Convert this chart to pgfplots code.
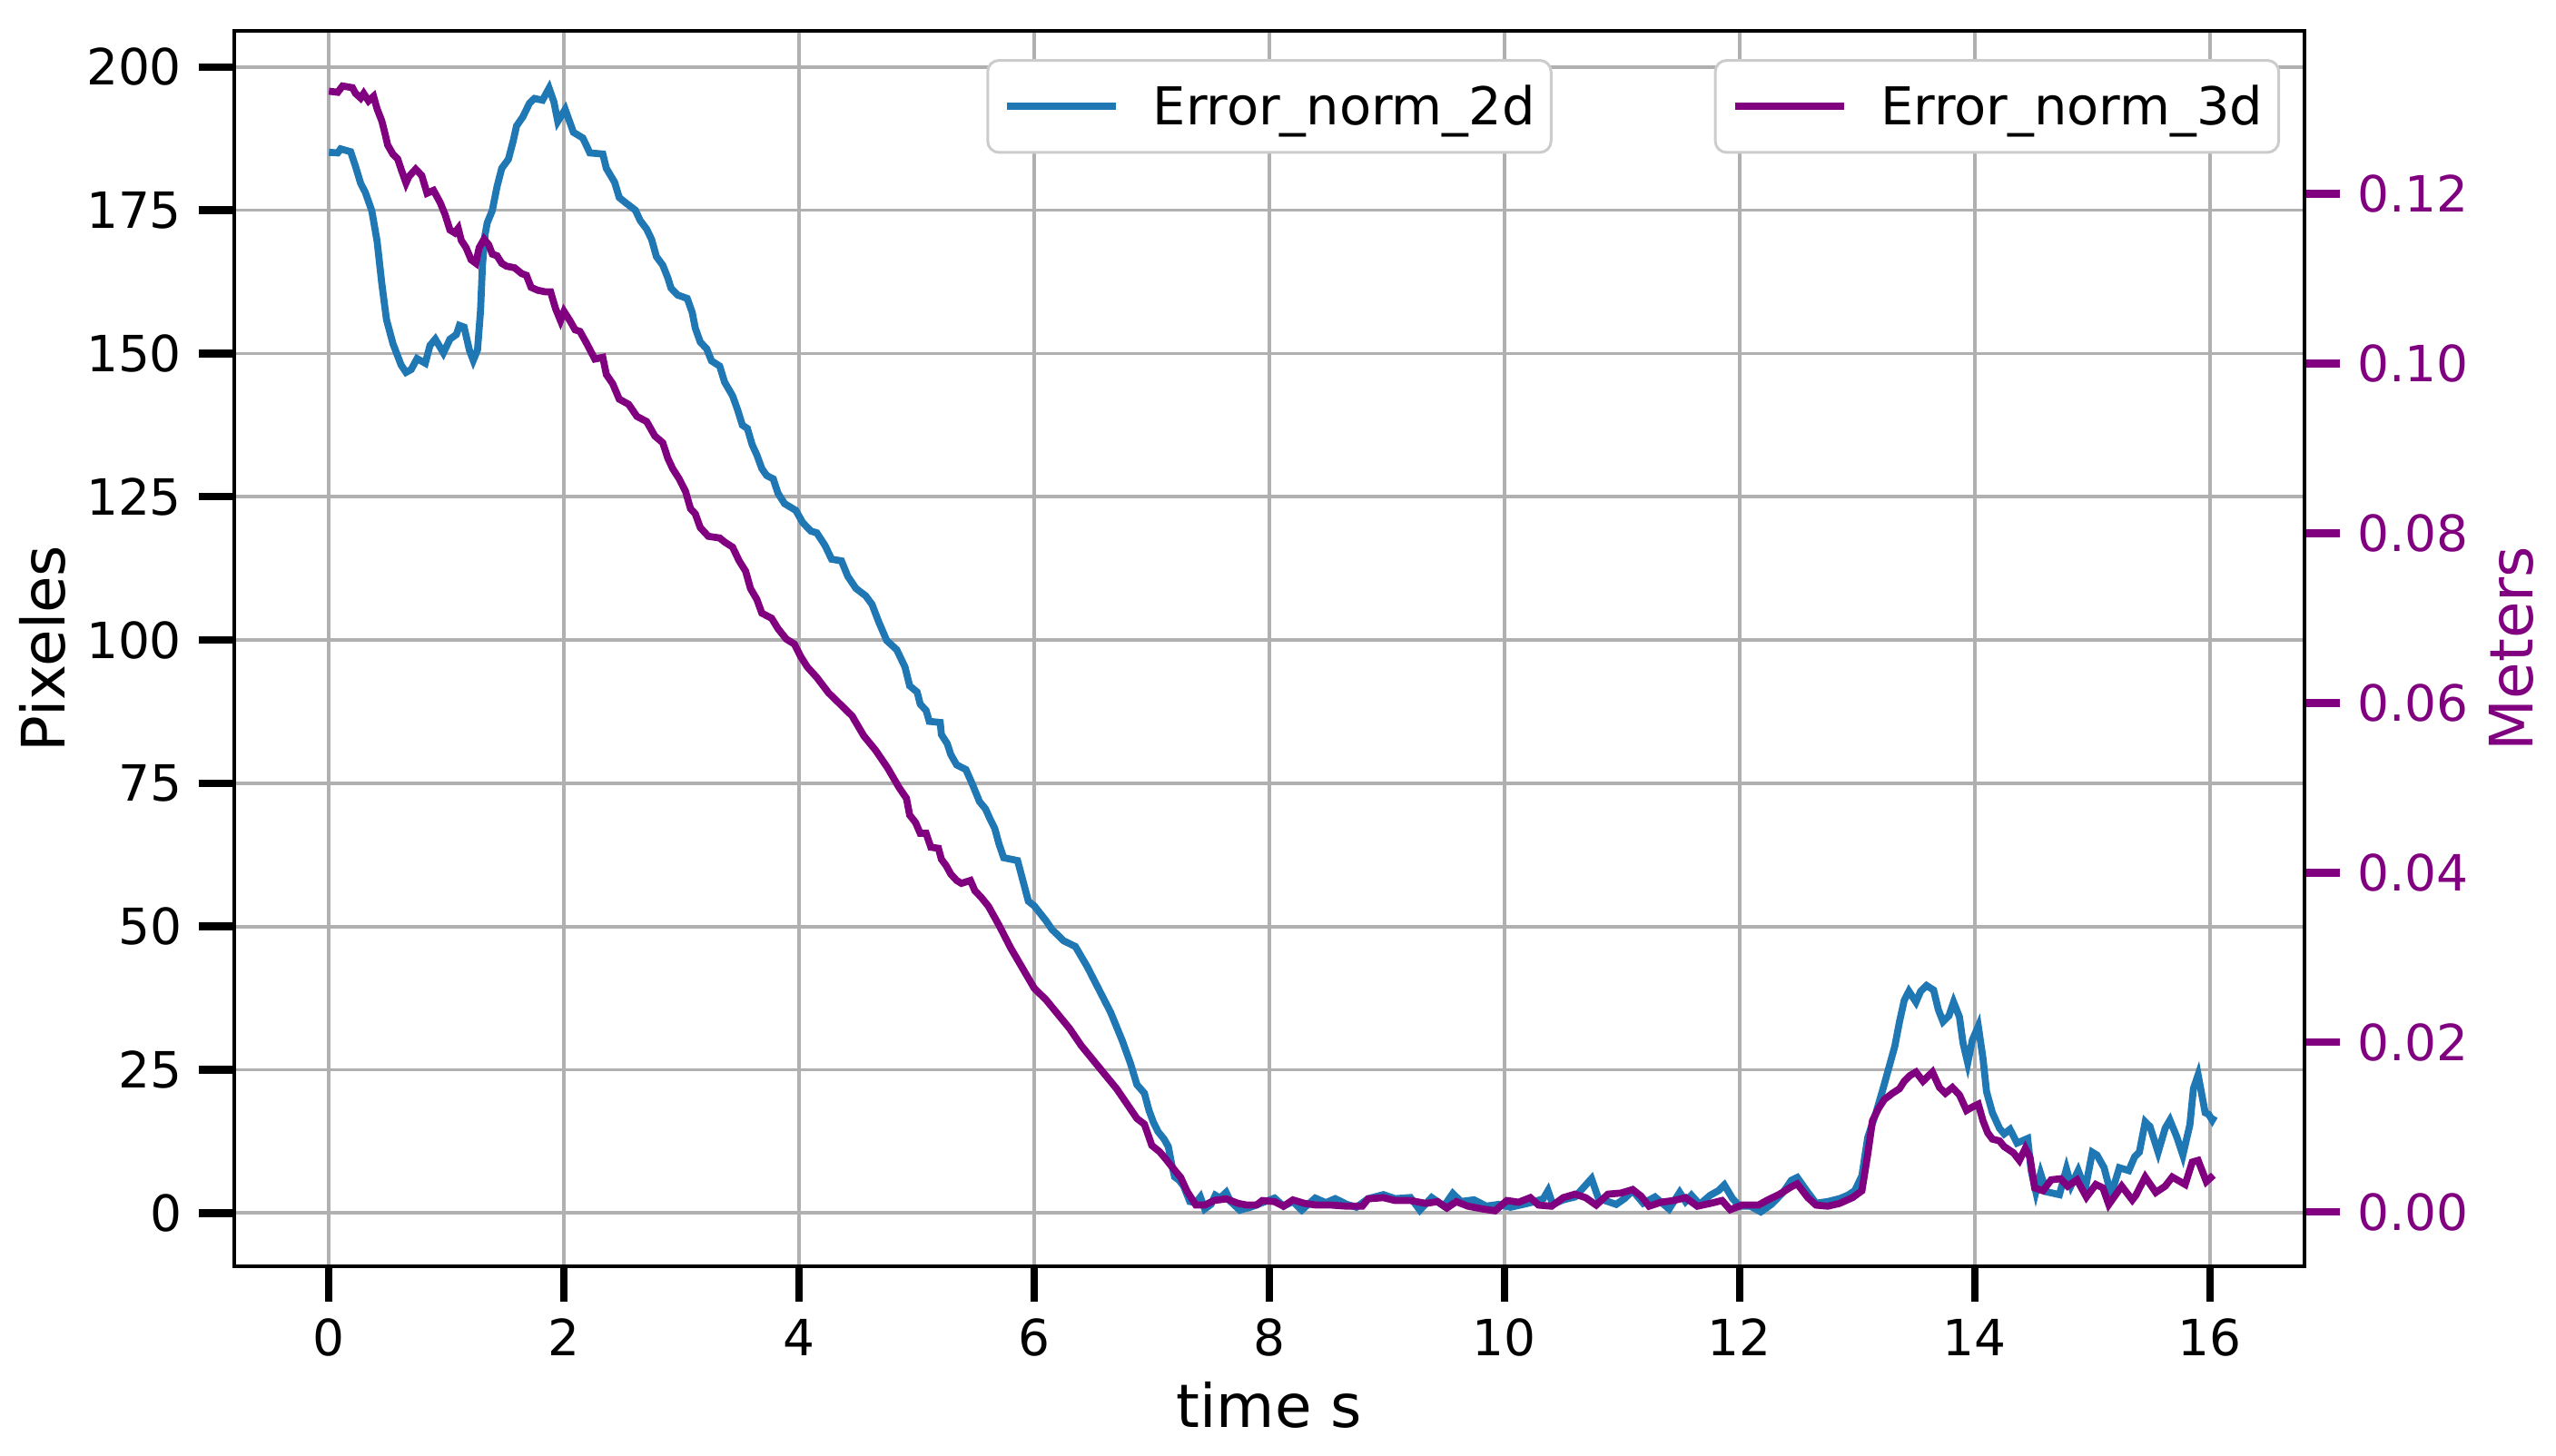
\documentclass[border=0pt]{standalone}
\usepackage{fontspec}
\setmainfont{DejaVu Sans}
\usepackage{pgfplots}
\pgfplotsset{compat=1.18}
\definecolor{tabblue}{RGB}{31,119,180}
\definecolor{mpurple}{RGB}{128,0,128}
\definecolor{gridgray}{RGB}{176,176,176}

\newcommand{\tickfont}{\fontsize{22}{26}\selectfont}
\newcommand{\legfont}{\fontsize{23}{27}\selectfont}
\newcommand{\labfont}{\fontsize{26.4}{30}\selectfont}

\pgfplotsset{
  common/.style={
    scale only axis, width=912pt, height=544.4pt,
    xmin=-0.805, xmax=16.805,
    tick align=outside, major tick length=15.6pt,
    tick label style={font=\tickfont, inner sep=7.4pt},
    /pgf/number format/assume math mode=true,
    axis line style={line width=1.6pt},
    label style={font=\labfont, inner sep=0pt},
    legend image code/.code={\draw[##1] (0pt,0pt) -- (48pt,0pt);},
  },
  legbox/.style={
    draw=black!20, line width=1.2pt, rounded corners=5pt, fill=white,
    font=\legfont, inner xsep=7pt, inner ysep=10.8pt,
    nodes={inner sep=0pt},
    /tikz/every odd column/.append style={column sep=14.7pt},
  },
}

\begin{document}
\begin{tikzpicture}
\begin{axis}[
  common,
  ymin=-9.3, ymax=206.3,
  xtick={0,2,...,16}, ytick={0,25,...,200},
  xtick pos=bottom, ytick pos=left,
  tick style={line width=3.4pt, color=black},
  grid=major, grid style={line width=1.5pt, color=gridgray},
  xlabel={time s}, ylabel={Pixeles},
  xlabel style={at={(axis description cs:0.5,0)}, anchor=base, yshift=-70.8pt},
  ylabel style={at={(axis description cs:0,0.5)}, anchor=base, yshift=74.5pt},
  legend style={legbox, at={(0.5,0.9772)}, anchor=north},
]
\addplot[tabblue, line width=3.1pt] coordinates {
(0,185.1) (0.075,185) (0.10,185.7) (0.185,185.2) (0.227,182.6) (0.27,179.7) (0.31,178.1) (0.365,174.9) (0.41,169.6) (0.45,162.2) (0.49,155.9) (0.545,151.7) (0.614,148) (0.656,146.7) (0.70,147.2) (0.75,149.1) (0.82,148.3) (0.86,151.4) (0.905,152.5) (0.974,150.1) (1.03,152.5) (1.084,153.3) (1.11,154.9) (1.15,154.6) (1.195,150.6) (1.228,148.8) (1.264,150.6) (1.29,157.5) (1.306,165.4) (1.328,170.7) (1.347,172.8) (1.389,174.9) (1.43,179.1) (1.47,182.3) (1.527,183.9) (1.568,187.1) (1.596,189.7) (1.65,191.3) (1.707,193.7) (1.748,194.5) (1.817,194.2) (1.873,196.3) (1.914,193.9) (1.947,190.5) (2.01,192.6) (2.08,188.6) (2.16,187.6) (2.22,185) (2.33,184.8) (2.36,182.3) (2.43,179.9) (2.47,177.2) (2.524,176.3) (2.607,175) (2.648,173.2) (2.703,171.7) (2.745,169.9) (2.786,166.9) (2.84,165.4) (2.883,163.2) (2.91,161.4) (2.966,160.2) (3.048,159.6) (3.09,157.2) (3.117,154.4) (3.159,152) (3.214,150.8) (3.255,148.7) (3.324,147.8) (3.366,145) (3.434,142.6) (3.476,140.2) (3.517,137.5) (3.56,136.9) (3.6,134.1) (3.64,132.3) (3.683,129.9) (3.724,128.7) (3.78,128.1) (3.82,125.6) (3.876,123.8) (3.972,122.6) (4.03,120.5) (4.1,119) (4.15,118.7) (4.22,116.5) (4.276,114.1) (4.36,113.8) (4.414,111.1) (4.483,109) (4.566,107.7) (4.62,106.2) (4.676,103.2) (4.745,99.9) (4.83,98.3) (4.9,95.3) (4.94,92) (5.004,90.9) (5.03,88.8) (5.08,87.7) (5.107,85.8) (5.2,85.6) (5.21,83.5) (5.26,81.9) (5.29,80) (5.34,78.2) (5.418,77.4) (5.47,75) (5.534,71.8) (5.586,70.5) (5.625,68.7) (5.664,67.1) (5.7,64.4) (5.74,62) (5.858,61.5) (5.91,57.5) (5.95,54.4) (6.0,53.6) (6.1,51) (6.15,49.5) (6.25,47.5) (6.35,46.5) (6.45,43) (6.55,39) (6.65,35) (6.75,30) (6.82,26)
(6.873,22.4) (6.937,20.9) (6.976,17.9) (7.014,15.8) (7.053,14.2) (7.104,12.9) (7.14,11.6) (7.17,8.4) (7.194,6.3) (7.233,5.7) (7.27,4.7) (7.323,2) (7.375,1.8) (7.413,2.8) (7.45,0.7) (7.503,1.5) (7.54,3.1) (7.58,2.6) (7.632,3.6) (7.67,2) (7.748,0.5) (7.838,1) (7.94,1.8) (8.044,2.6) (8.12,1.2) (8.2,2) (8.275,0.5) (8.39,2.6) (8.48,1.8) (8.56,2.5) (8.66,1.5) (8.74,1) (8.84,2.5) (8.97,3.2) (9.07,2.5) (9.2,2.7) (9.28,0.5) (9.38,2.7) (9.485,1.2) (9.56,3.4) (9.63,2) (9.74,2.3) (9.845,1.2)
(9.95,1.5) (10.05,1) (10.16,1.5) (10.26,2) (10.33,2.5) (10.37,3.9) (10.41,1.5) (10.5,2.3) (10.6,2.8) (10.67,4.4) (10.74,6) (10.8,2.5) (10.88,2) (10.95,1.5) (11.02,2.5) (11.09,3.9) (11.18,1.7) (11.28,2.8) (11.4,0.7) (11.49,3.6) (11.54,2) (11.59,3.1) (11.66,1.5) (11.75,3.1) (11.82,3.9) (11.87,4.9) (11.94,2.5) (12.0,1.2) (12.09,1.2) (12.18,0.2) (12.27,1.5) (12.37,3.6) (12.44,5.7) (12.49,6.2) (12.58,3.6) (12.65,1.7) (12.75,2) (12.85,2.5) (12.92,3.1) (12.98,3.9)
(13.04,6.5) (13.09,13.2) (13.16,17.5) (13.22,21.7) (13.27,25.4) (13.32,29.1) (13.36,33.4) (13.4,37.1) (13.44,38.7) (13.5,36.8) (13.54,38.7) (13.59,39.7) (13.65,38.9) (13.69,35.5) (13.73,33.4) (13.78,34.4) (13.82,36.8) (13.87,34.2) (13.9,29.7) (13.94,26.2) (13.98,30.2) (14.03,32.6) (14.07,27) (14.1,21.2) (14.15,17.5) (14.21,14.8) (14.25,13.8) (14.3,14.6) (14.36,12.2) (14.45,13) (14.48,7.4) (14.52,3.7) (14.56,6.9) (14.61,3.7) (14.72,3.2) (14.78,7.7) (14.82,4.8) (14.88,7.4) (14.94,4.2) (15.0,10.6) (15.04,10.1) (15.1,7.9) (15.16,3.2) (15.23,7.9) (15.31,7.4) (15.36,9.8) (15.4,10.6) (15.45,15.9) (15.49,15.1) (15.56,10.6) (15.62,14.8) (15.66,16.2) (15.72,13.2) (15.77,10.1) (15.83,15.4) (15.86,21.7) (15.9,24.1) (15.96,17.5) (15.99,17.2) (16.02,16.2) (16.04,16.9)
};
\addlegendentry{Error\_norm\_2d}
\end{axis}

\begin{axis}[
  common,
  ymin=-0.0064, ymax=0.1392,
  axis x line=none, axis y line*=right,
  y axis line style={-, black},
  ytick={0,0.02,0.04,0.06,0.08,0.1,0.12},
  scaled y ticks=false,
  yticklabel style={color=mpurple, /pgf/number format/.cd, fixed, fixed zerofill, precision=2},
  ytick style={line width=3.4pt, color=mpurple},
  ylabel={Meters},
  ylabel style={at={(axis description cs:1,0.5)}, anchor=base, yshift=-100.4pt, color=mpurple},
  legend style={legbox, at={(0.9882,0.9772)}, anchor=north east},
]
\addplot[mpurple, line width=3.1pt] coordinates {
(0,0.13209) (0.075,0.13196) (0.116,0.13270) (0.2,0.13250) (0.227,0.13182) (0.27,0.13128) (0.296,0.13182) (0.337,0.13094) (0.38,0.13148) (0.41,0.13000) (0.45,0.12858) (0.476,0.12716) (0.5,0.12574) (0.545,0.12465) (0.585,0.12411) (0.614,0.12290) (0.656,0.12127) (0.68,0.12202) (0.738,0.12290) (0.79,0.12215) (0.835,0.12006) (0.89,0.12040) (0.946,0.11898) (0.988,0.11756) (1.03,0.11573) (1.07,0.11539) (1.1,0.11593) (1.126,0.11451) (1.167,0.11364) (1.21,0.11222) (1.25,0.11181) (1.278,0.11364) (1.32,0.11465) (1.36,0.11397) (1.39,0.11289) (1.43,0.11269) (1.47,0.11181) (1.51,0.11147) (1.58,0.11127) (1.64,0.11059) (1.68,0.11039) (1.72,0.10897) (1.776,0.10863) (1.845,0.10843) (1.886,0.10843) (1.928,0.10647) (1.97,0.10505) (2.0,0.10613) (2.05,0.10505) (2.094,0.10397) (2.136,0.10377) (2.193,0.10235) (2.262,0.10052) (2.33,0.10072) (2.36,0.09870) (2.414,0.09761) (2.47,0.09579) (2.55,0.09518) (2.62,0.09376) (2.703,0.09315) (2.772,0.09146) (2.84,0.09065) (2.883,0.08883) (2.924,0.08761) (2.98,0.08639) (3.034,0.08491) (3.076,0.08288) (3.117,0.08227) (3.159,0.08065) (3.228,0.07963) (3.324,0.07943) (3.366,0.07896) (3.434,0.07835) (3.49,0.07673) (3.545,0.07551) (3.586,0.07348) (3.64,0.07220) (3.683,0.07057) (3.766,0.06997) (3.82,0.06875) (3.89,0.06753) (3.96,0.06692) (4.014,0.06544) (4.07,0.06422) (4.15,0.06300) (4.25,0.06118) (4.35,0.05983) (4.45,0.05847) (4.55,0.05611) (4.65,0.05442) (4.75,0.05239) (4.85,0.05002) (4.913,0.04874) (4.94,0.04678) (4.99,0.04590) (5.03,0.04462) (5.08,0.04462) (5.12,0.04299) (5.185,0.04286) (5.21,0.04157) (5.25,0.04083) (5.29,0.03982) (5.34,0.03907) (5.38,0.03873) (5.457,0.03907) (5.495,0.03786) (5.547,0.03711) (5.61,0.03603) (5.7,0.03380) (5.8,0.03110) (5.9,0.02873) (6.0,0.02636) (6.1,0.02501) (6.2,0.02332) (6.3,0.02163) (6.4,0.01960) (6.5,0.01791) (6.6,0.01622) (6.7,0.01453) (6.8,0.01251)
(6.873,0.01102) (6.937,0.01034) (7.0,0.00784) (7.066,0.00710) (7.12,0.00622) (7.17,0.00534) (7.246,0.00406) (7.3,0.00243) (7.35,0.00135) (7.375,0.00081) (7.45,0.00081) (7.53,0.00135) (7.632,0.00155) (7.735,0.00101) (7.81,0.00081) (7.89,0.00081) (7.94,0.00135) (8.044,0.00122) (8.12,0.00068) (8.2,0.00142) (8.3,0.00101) (8.4,0.00081) (8.53,0.00081) (8.66,0.00068) (8.79,0.00068) (8.84,0.00155) (8.97,0.00169) (9.07,0.00135) (9.2,0.00135) (9.33,0.00101) (9.43,0.00122) (9.51,0.00047) (9.59,0.00122) (9.69,0.00068) (9.82,0.00034) (9.92,0.00014)
(10.02,0.00135) (10.12,0.00115) (10.22,0.00169) (10.29,0.00081) (10.4,0.00068) (10.5,0.00169) (10.6,0.00210) (10.69,0.00169) (10.78,0.00081) (10.88,0.00210) (10.99,0.00223) (11.09,0.00264) (11.16,0.00189) (11.23,0.00068) (11.33,0.00115) (11.44,0.00135) (11.54,0.00169) (11.64,0.00068) (11.75,0.00101) (11.85,0.00135) (11.92,0.00027) (12.02,0.00081) (12.16,0.00081) (12.23,0.00135) (12.34,0.00210) (12.44,0.00297) (12.49,0.00331) (12.58,0.00169) (12.65,0.00081) (12.75,0.00068) (12.85,0.00101) (12.96,0.00169)
(13.04,0.00250) (13.09,0.00683) (13.13,0.01075) (13.18,0.01217) (13.23,0.01325) (13.3,0.01399) (13.36,0.01453) (13.4,0.01541) (13.45,0.01609) (13.5,0.01649) (13.56,0.01541) (13.6,0.01595) (13.64,0.01649) (13.7,0.01467) (13.75,0.01399) (13.81,0.01467) (13.87,0.01379) (13.93,0.01197) (13.98,0.01237) (14.03,0.01271) (14.07,0.01075) (14.11,0.00933) (14.15,0.00859) (14.21,0.00838) (14.25,0.00771) (14.33,0.00696) (14.38,0.00608) (14.43,0.00750) (14.47,0.00642) (14.51,0.00284) (14.58,0.00250) (14.65,0.00379) (14.73,0.00392) (14.79,0.00304) (14.87,0.00379) (14.95,0.00176) (15.03,0.00324) (15.09,0.00284) (15.14,0.00088) (15.25,0.00304) (15.34,0.00142) (15.37,0.00196) (15.45,0.00412) (15.54,0.00230) (15.62,0.00304) (15.68,0.00412) (15.79,0.00324) (15.85,0.00588) (15.9,0.00608) (15.97,0.00358) (16.03,0.00433)
};
\addlegendentry{Error\_norm\_3d}
\end{axis}
\path (current axis.south west) ++(-103.2pt,-83.6pt);
\path (current axis.north east) ++(110.8pt,13.6pt);
\end{tikzpicture}
\end{document}
